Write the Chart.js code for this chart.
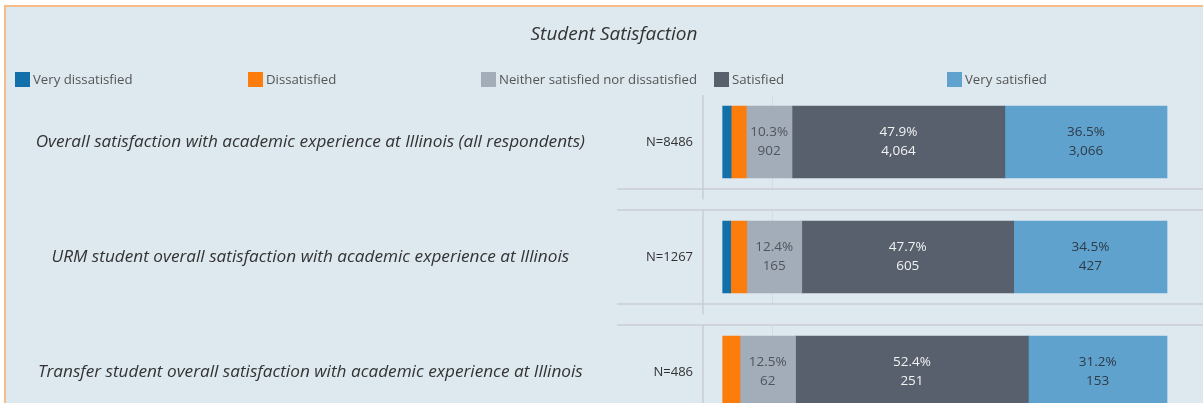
<!DOCTYPE html>
<html>
<head>
<meta charset="utf-8">
<script src="https://cdn.jsdelivr.net/npm/chart.js@4"></script>
<style>
  html, body { margin: 0; padding: 0; width: 1203px; height: 403px; overflow: hidden; background: #ffffff; }
  #frame { position: absolute; left: 4px; top: 5px; width: 1199px; height: 398px;
           background: #dde8ef; border-left: 2px solid #f6bd88; border-top: 2px solid #f6bd88; }
  #wrap { position: absolute; left: 0; top: 0; width: 1203px; height: 403px; overflow: hidden; }
  canvas { display: block; }
</style>
</head>
<body>
<div id="frame"></div>
<div id="wrap"><canvas id="c" width="1203" height="440"></canvas></div>
<script>
// ---- data ----
const titleText = 'Student Satisfaction';
const categories = [
  'Overall satisfaction with academic experience at Illinois (all respondents)',
  'URM student overall satisfaction with academic experience at Illinois',
  'Transfer student overall satisfaction with academic experience at Illinois'
];
const nLabels = ['N=8486', 'N=1267', 'N=486'];
const seriesNames = ['Very dissatisfied', 'Dissatisfied', 'Neither satisfied nor dissatisfied', 'Satisfied', 'Very satisfied'];
const seriesColors = ['#1170aa', '#fc7d0b', '#a3acb9', '#57606c', '#5fa2ce'];
const labelColors  = [null, null, '#4f555c', '#f2f2f2', '#2f3a46'];
// percent of respondents
const veryDissatisfiedPct = [1.9, 1.8, null];
const dissatisfiedPct     = [3.4, 3.6, 3.9];
const neitherPct          = [10.3, 12.4, 12.5];
const satisfiedPct        = [47.9, 47.7, 52.4];
const verySatisfiedPct    = [36.5, 34.5, 31.2];
// respondent counts (shown under the percentages)
const neitherCount        = [902, 165, 62];
const satisfiedCount      = [4064, 605, 251];
const verySatisfiedCount  = [3066, 427, 153];
const gridTick = 11;

const pctSeries = [veryDissatisfiedPct, dissatisfiedPct, neitherPct, satisfiedPct, verySatisfiedPct];
const countSeries = [null, null, neitherCount, satisfiedCount, verySatisfiedCount];

const FONT = "'Open Sans', 'Noto Sans', sans-serif";

const datasets = seriesNames.map((name, i) => ({
  label: name,
  data: pctSeries[i],
  counts: countSeries[i],
  labelColor: labelColors[i],
  backgroundColor: seriesColors[i],
  borderWidth: 0,
  barThickness: 72
}));

const decorPlugin = {
  id: 'decor',
  beforeDatasetsDraw(chart) {
    const ctx = chart.ctx;
    const y = chart.scales.y, x = chart.scales.x, yq = chart.scales.yq;
    const ca = chart.chartArea;
    const n = categories.length;
    const pitch = y.getPixelForValue(1) - y.getPixelForValue(0);
    const gap = 10.5;
    ctx.save();
    for (let i = 0; i < n; i++) {
      const c = y.getPixelForValue(i);
      const top = c - pitch / 2 + gap;
      const bot = c + pitch / 2 - gap;
      ctx.strokeStyle = '#d3dce2';
      ctx.lineWidth = 1;
      const gx = Math.round(x.getPixelForValue(gridTick)) + 0.5;
      ctx.beginPath(); ctx.moveTo(gx, top); ctx.lineTo(gx, bot); ctx.stroke();
      ctx.strokeStyle = '#c9ced2';
      ctx.lineWidth = 1.5;
      ctx.beginPath(); ctx.moveTo(ca.left, top); ctx.lineTo(ca.left, bot + gap); ctx.stroke();
      if (i < n - 1) {
        ctx.beginPath(); ctx.moveTo(yq.right, bot); ctx.lineTo(ca.right, bot); ctx.stroke();
        ctx.beginPath(); ctx.moveTo(yq.right, bot + 2 * gap); ctx.lineTo(ca.right, bot + 2 * gap); ctx.stroke();
      }
    }
    ctx.restore();
  },
  afterDatasetsDraw(chart) {
    const ctx = chart.ctx;
    ctx.save();
    ctx.font = "13.5px " + FONT;
    ctx.textAlign = 'center';
    ctx.textBaseline = 'middle';
    chart.data.datasets.forEach((ds, di) => {
      if (!ds.counts) return;
      const meta = chart.getDatasetMeta(di);
      meta.data.forEach((bar, i) => {
        const v = ds.data[i];
        if (!v) return;
        const cx = (bar.x + bar.base) / 2;
        ctx.fillStyle = ds.labelColor;
        ctx.fillText(v.toFixed(1) + '%', cx, bar.y - 9.5);
        ctx.fillText(ds.counts[i].toLocaleString('en-US'), cx, bar.y + 9.5);
      });
    });
    ctx.restore();
  },
  afterDraw(chart) {
    const ctx = chart.ctx;
    ctx.save();
    ctx.fillStyle = '#333333';
    ctx.font = "italic 19px " + FONT;
    ctx.textAlign = 'center';
    ctx.textBaseline = 'middle';
    ctx.fillText(titleText, 614, 35);
    ctx.font = "13.2px " + FONT;
    ctx.textAlign = 'left';
    chart.data.datasets.forEach((ds, i) => {
      const lx = 15 + i * 233;
      ctx.fillStyle = ds.backgroundColor;
      ctx.fillRect(lx, 72, 15, 15);
      ctx.fillStyle = '#555555';
      ctx.fillText(ds.label, lx + 18, 80);
    });
    ctx.restore();
  }
};

const noPad = (w) => (s) => { s.width = w; s.paddingTop = 0; s.paddingBottom = 0; };

new Chart(document.getElementById('c'), {
  type: 'bar',
  data: { labels: categories, datasets },
  options: {
    indexAxis: 'y',
    responsive: false,
    animation: false,
    layout: { padding: { top: 84.5, bottom: 10.5, left: 5, right: 0 } },
    plugins: { legend: { display: false }, title: { display: false }, tooltip: { enabled: false } },
    scales: {
      x: { stacked: true, min: -4.43, max: 108.1, display: false },
      y: {
        stacked: true, offset: true, position: 'left', weight: 0,
        grid: { display: false, drawTicks: false },
        border: { display: false },
        ticks: {
          callback: (v, i) => nLabels[i],
          font: { family: FONT, size: 13 }, color: '#333333', padding: 10, crossAlign: 'near'
        },
        afterFit: noPad(86)
      },
      yq: {
        type: 'category', labels: categories, offset: true, position: 'left', weight: 1,
        grid: { display: false, drawTicks: false },
        border: { display: false },
        ticks: {
          font: { family: FONT, size: 17.2, style: 'italic' }, color: '#333333', padding: 32, crossAlign: 'center'
        },
        afterFit: noPad(612)
      }
    }
  },
  plugins: [decorPlugin]
});
</script>
</body>
</html>
